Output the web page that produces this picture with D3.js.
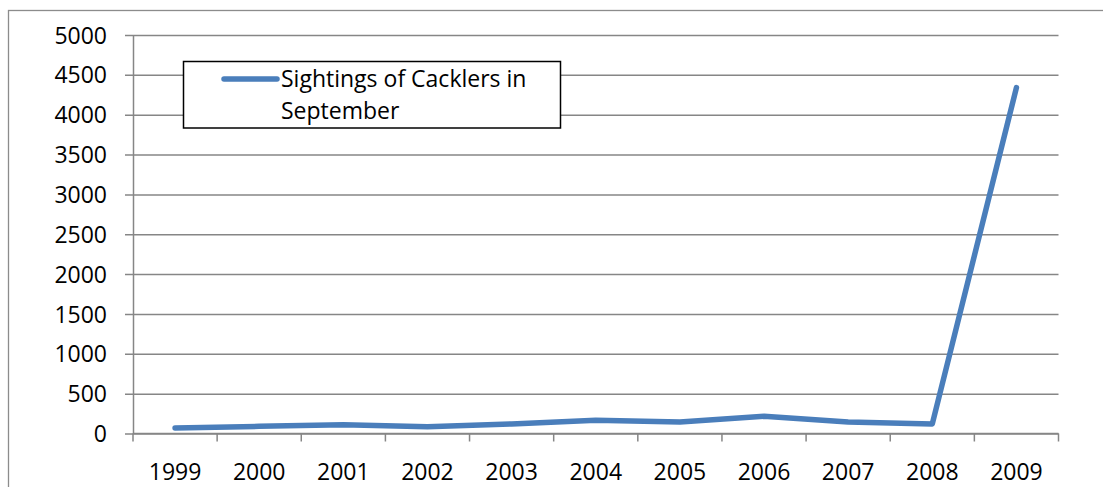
<!DOCTYPE html>
<html>
<head>
<meta charset="utf-8">
<script src="https://cdn.jsdelivr.net/npm/d3@7"></script>
<style>
  html, body { margin: 0; padding: 0; background: #fff; }
  svg { display: block; }
  text { font-family: "Open Sans", "Noto Sans", sans-serif; fill: #000; }
</style>
</head>
<body>
<svg id="chart" width="1103" height="487"></svg>
<script>
// Cackler sightings recorded each September
const years = ["1999", "2000", "2001", "2002", "2003", "2004", "2005", "2006", "2007", "2008", "2009"];
const sightings = [70, 90, 110, 85, 120, 165, 145, 215, 145, 120, 4340];
const yTicks = [0, 500, 1000, 1500, 2000, 2500, 3000, 3500, 4000, 4500, 5000];
const seriesName = ["Sightings of Cacklers in", "September"];

const svg = d3.select("#chart");
const gridColor = "#868686";
const fontSize = 23;

// outer chart frame
svg.append("rect")
  .attr("x", 8.5).attr("y", 10.5)
  .attr("width", 1200).attr("height", 600)
  .attr("fill", "#fff").attr("stroke", "#8c8c8c").attr("stroke-width", 1.3);

const plot = { left: 133, right: 1058.5, top: 35, bottom: 433.5 };

const x = d3.scaleBand().domain(years).range([plot.left, plot.right]).padding(0);
const y = d3.scaleLinear().domain([0, 5000]).range([plot.bottom, plot.top]);

// horizontal gridlines with outside tick stubs
const yAxis = d3.axisLeft(y)
  .tickValues(yTicks)
  .tickFormat(d3.format("d"))
  .tickSize(-(plot.right - plot.left))
  .tickSizeOuter(0)
  .tickPadding(26);
const gy = svg.append("g").attr("transform", `translate(${plot.left},0)`).call(yAxis);
gy.select(".domain").attr("stroke", gridColor).attr("stroke-width", 1.5);
gy.selectAll(".tick line")
  .attr("x1", -8)
  .attr("stroke", gridColor).attr("stroke-width", 1.5);
gy.selectAll(".tick text").attr("font-size", fontSize).attr("dy", "0.35em")
  .attr("font-family", "'Open Sans', sans-serif").attr("fill", "#000");

// category axis with ticks between years
const gx = svg.append("g").attr("transform", `translate(0,${plot.bottom})`);
gx.append("line")
  .attr("x1", plot.left).attr("x2", plot.right)
  .attr("stroke", gridColor).attr("stroke-width", 1.5);
const bounds = years.map(d => x(d)).concat([x(years[years.length - 1]) + x.bandwidth()]);
gx.selectAll("line.tk").data(bounds).join("line").attr("class", "tk")
  .attr("x1", d => d).attr("x2", d => d)
  .attr("y1", 0).attr("y2", 8)
  .attr("stroke", gridColor).attr("stroke-width", 1.5);
gx.selectAll("text").data(years).join("text")
  .attr("x", d => x(d) + x.bandwidth() / 2)
  .attr("y", 46.5)
  .attr("text-anchor", "middle")
  .attr("font-size", fontSize)
  .text(d => d);

// data line
const line = d3.line()
  .x((d, i) => x(years[i]) + x.bandwidth() / 2)
  .y(d => y(d));
svg.append("path")
  .datum(sightings)
  .attr("d", line)
  .attr("fill", "none")
  .attr("stroke", "#4a7ebb")
  .attr("stroke-width", 5.5)
  .attr("stroke-linejoin", "round")
  .attr("stroke-linecap", "round");

// legend
const lg = svg.append("g");
lg.append("rect")
  .attr("x", 183.5).attr("y", 61.5)
  .attr("width", 377).attr("height", 66.5)
  .attr("fill", "#fff").attr("stroke", "#000").attr("stroke-width", 1.5);
lg.append("line")
  .attr("x1", 224).attr("x2", 277)
  .attr("y1", 79).attr("y2", 79)
  .attr("stroke", "#4a7ebb").attr("stroke-width", 5.5).attr("stroke-linecap", "round");
lg.selectAll("text").data(seriesName).join("text")
  .attr("x", 281)
  .attr("y", (d, i) => 87 + i * 32)
  .attr("font-size", fontSize)
  .text(d => d);
</script>
</body>
</html>
